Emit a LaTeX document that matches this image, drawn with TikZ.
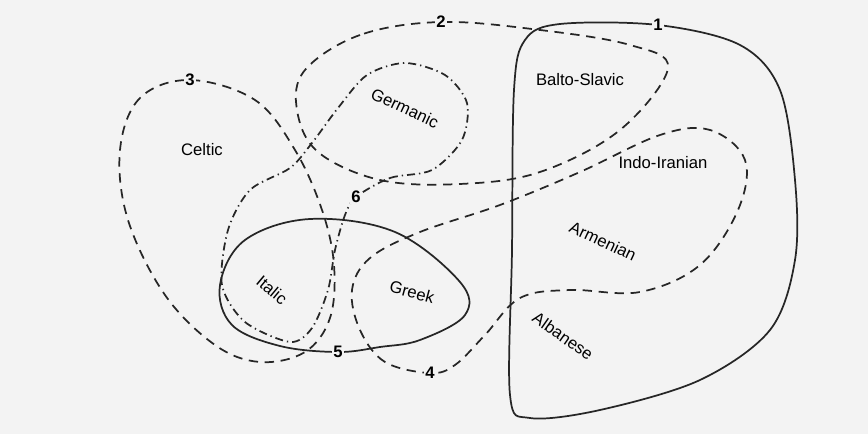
\documentclass[tikz,border=0pt]{standalone}
\usepackage{fontspec}
\setmainfont{Liberation Sans}
\begin{document}
\begin{tikzpicture}[x=0.75pt,y=-0.75pt,
  iso/.style={line width=1.3pt,black!85},
  dsh/.style={iso,dash pattern=on 7pt off 5pt},
  dd/.style={iso,dash pattern=on 6pt off 3pt on 1pt off 3pt},
  num/.style={fill=bgc,inner sep=1pt,font=\bfseries\fontsize{12.5}{13}\selectfont},
  lab/.style={inner sep=1pt,font=\fontsize{12.5}{13}\selectfont}]
\definecolor{bgc}{HTML}{F3F3F3}
\fill[bgc] (0,0) rectangle (868,434);
\useasboundingbox (0,0) rectangle (868,434);
% 1 solid
\draw[iso] plot[smooth cycle,tension=0.55] coordinates{(560,24) (658,25) (740,45) (780,90) (795,180) (795,260) (770,330) (700,380) (600,410) (530,418) (510,395) (512,250) (514,90) (525,40)};
% 2 dashed
\draw[dsh] plot[smooth cycle,tension=0.6] coordinates{(441,22) (360,35) (305,70) (297,110) (318,152) (380,180) (460,184) (540,172) (620,130) (668,68) (630,45) (540,30)};
% 3 dashed
\draw[dsh] plot[smooth cycle,tension=0.6] coordinates{(190,80) (140,98) (120,150) (128,220) (165,295) (215,345) (260,362) (305,352) (330,318) (334,265) (322,210) (295,150) (255,100)};
% 4 dashed
\draw[dsh] plot[smooth cycle,tension=0.6] coordinates{(430,373) (385,362) (360,330) (352,290) (370,258) (420,232) (500,205) (580,172) (660,135) (710,130) (745,160) (738,210) (700,265) (640,292) (570,290) (520,298) (485,335) (455,365)};
% 5 solid
\draw[iso] plot[smooth cycle,tension=0.6] coordinates{(338,352) (280,346) (232,325) (220,285) (245,240) (310,219) (395,232) (460,282) (465,315) (420,340) (380,347)};
% 6 dash dot
\draw[dd] plot[smooth cycle,tension=0.5] coordinates{(356,197) (390,178) (432,170) (462,140) (467,103) (445,75) (405,63) (367,75) (338,108) (312,143) (290,168) (250,190) (228,230) (222,285) (245,322) (290,342) (312,328) (328,290) (335,250) (345,215)};
% numbers
\node[num] (n1) at (658,25) {1};
\node[num] (n2) at (441,22) {2};
\node[num] (n3) at (190,80) {3};
\node[num] (n4) at (430,373) {4};
\node[num] (n5) at (338,352) {5};
\node[num] (n6) at (356,197) {6};
% labels
\node[lab] (celtic) at (202,150) {Celtic};
\node[lab,rotate=-25] (germ) at (405,108) {Germanic};
\node[lab] (balto) at (580,80) {Balto-Slavic};
\node[lab] (indo) at (663,163) {Indo-Iranian};
\node[lab,rotate=-25] (arm) at (603,241) {Armenian};
\node[lab,rotate=-40] (ital) at (272,290) {Italic};
\node[lab,rotate=-15] (greek) at (412,292) {Greek};
\node[lab,rotate=-35] (alb) at (563,336) {Albanese};
\end{tikzpicture}
\end{document}
